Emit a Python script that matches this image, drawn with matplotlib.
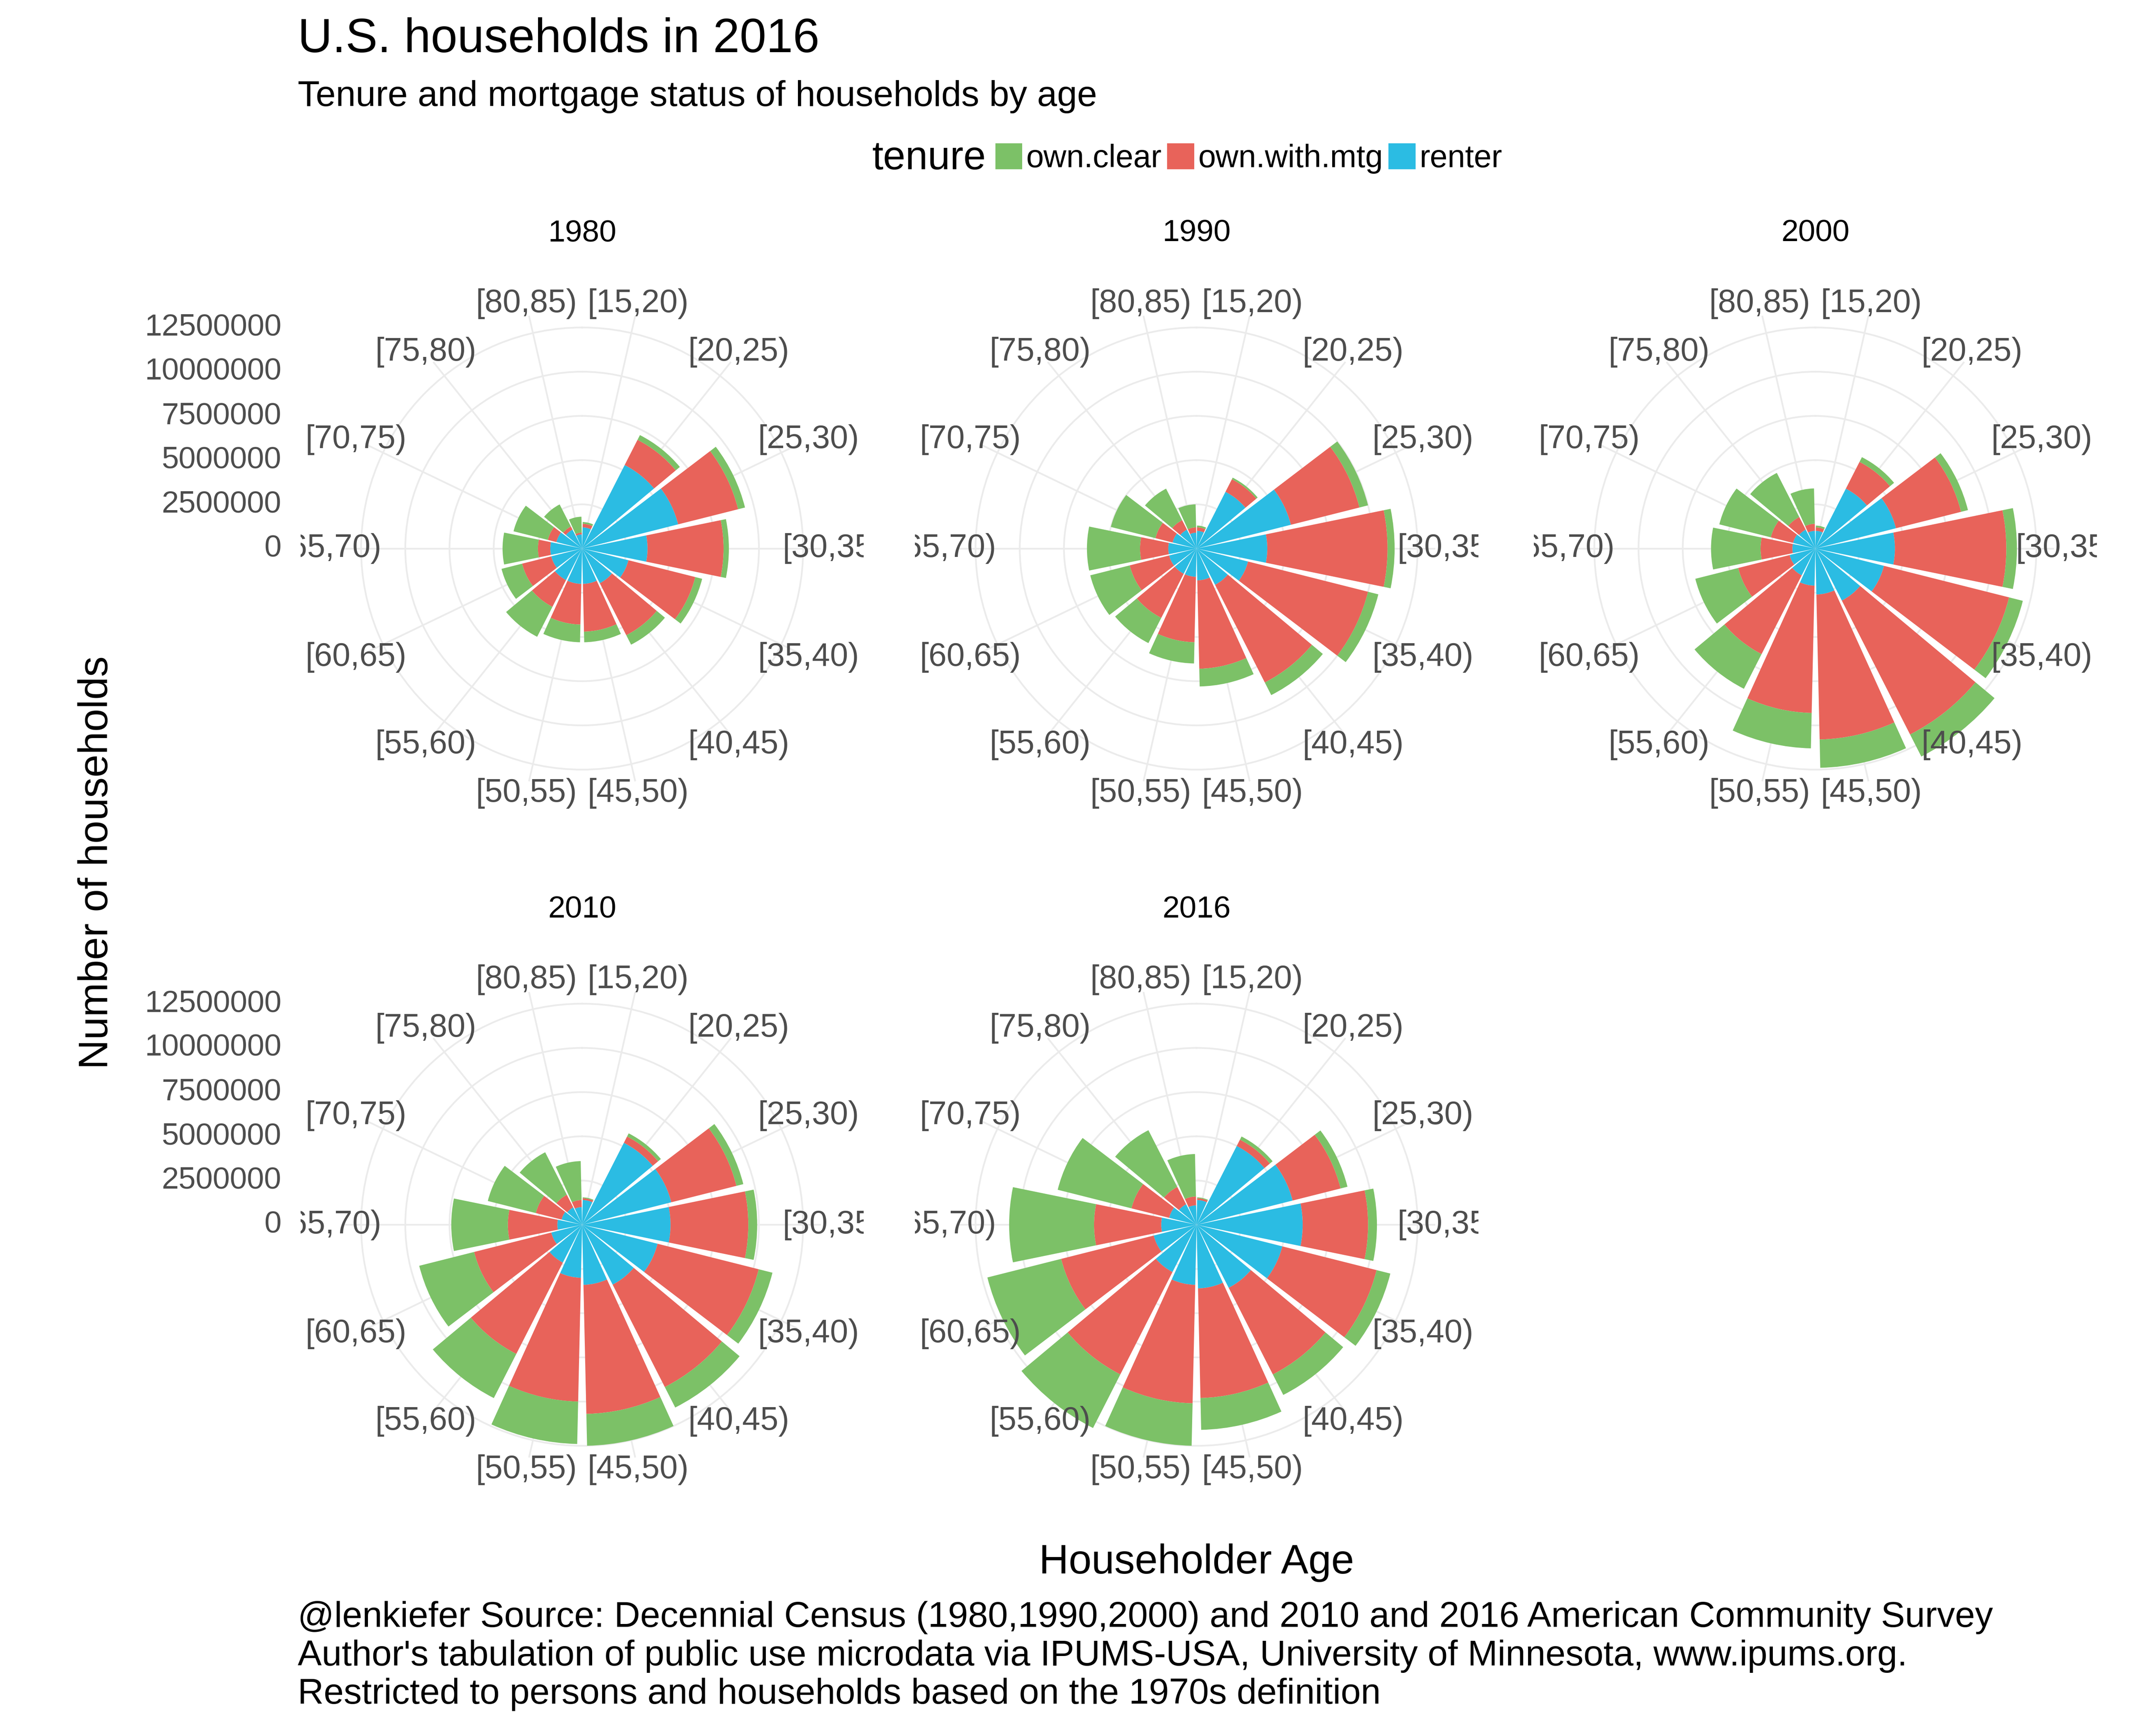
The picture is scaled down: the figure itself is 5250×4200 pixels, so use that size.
import numpy as np
import matplotlib.pyplot as plt
from matplotlib.transforms import Bbox, TransformedBbox
from matplotlib.patches import Patch

plt.rcParams['font.family'] = ['Liberation Sans', 'DejaVu Sans']

ages = ["[15,20)", "[20,25)", "[25,30)", "[30,35)", "[35,40)", "[40,45)", "[45,50)",
        "[50,55)", "[55,60)", "[60,65)", "[65,70)", "[70,75)", "[75,80)", "[80,85)"]
years = ["1980", "1990", "2000", "2010", "2016"]

# millions of households
renter = {
    "1980": [1.2, 5.3, 5.6, 3.7, 2.7, 2.2, 2.0, 2.0, 2.0, 1.8, 1.8, 1.5, 1.2, 0.8],
    "1990": [1.0, 3.6, 5.5, 4.0, 3.0, 2.3, 1.8, 1.6, 1.6, 1.6, 1.6, 1.4, 1.2, 0.9],
    "2000": [1.0, 3.8, 4.7, 4.5, 4.0, 3.3, 2.6, 2.1, 1.7, 1.5, 1.3, 1.3, 1.2, 1.0],
    "2010": [1.4, 5.2, 5.2, 5.0, 4.4, 3.8, 3.4, 3.0, 2.4, 1.8, 1.4, 1.2, 1.1, 1.0],
    "2016": [1.4, 5.0, 5.6, 6.0, 5.0, 4.0, 3.6, 3.4, 3.0, 2.5, 2.0, 1.6, 1.3, 1.1],
}
own_mtg = {
    "1980": [0.2, 1.6, 3.5, 4.3, 3.9, 3.3, 2.7, 2.3, 1.7, 1.7, 0.7, 0.5, 0.2, 0.1],
    "1990": [0.2, 0.8, 4.0, 6.8, 7.0, 6.2, 5.0, 3.7, 2.8, 2.3, 1.6, 1.0, 0.6, 0.3],
    "2000": [0.2, 1.7, 3.8, 6.3, 7.3, 8.5, 8.2, 7.2, 5.0, 3.0, 1.8, 1.3, 0.8, 0.4],
    "2010": [0.1, 0.4, 3.8, 4.4, 5.9, 6.5, 7.3, 7.0, 5.8, 4.5, 2.8, 1.5, 0.8, 0.4],
    "2016": [0.1, 0.4, 2.8, 3.7, 5.5, 5.5, 6.2, 6.7, 6.5, 5.4, 3.8, 2.2, 1.1, 0.5],
}
own_clear = {
    "1980": [0.1, 0.3, 0.4, 0.3, 0.4, 0.6, 0.6, 1.0, 1.9, 1.2, 2.0, 2.0, 1.4, 0.9],
    "1990": [0.1, 0.1, 0.5, 0.4, 0.6, 0.8, 1.0, 1.2, 1.6, 2.3, 3.0, 2.6, 2.0, 1.3],
    "2000": [0.1, 0.3, 0.4, 0.6, 0.8, 1.4, 1.6, 2.0, 2.2, 2.5, 2.8, 3.0, 2.8, 2.0],
    "2010": [0.05, 0.2, 0.4, 0.5, 0.8, 1.3, 1.8, 2.4, 2.8, 3.2, 3.2, 2.8, 2.7, 2.2],
    "2016": [0.05, 0.2, 0.4, 0.5, 0.8, 1.3, 1.8, 2.4, 3.4, 4.3, 4.8, 4.3, 3.6, 2.4],
}
r_ticks = [0, 2500000, 5000000, 7500000, 10000000, 12500000]

c_clear, c_mtg, c_rent = "#7CC167", "#E8635A", "#2BBCE3"
rmax = 13.5e6
n = len(ages)
theta = (np.arange(n) + 0.5) * 2 * np.pi / n
w = 0.9 * 2 * np.pi / n

fig = plt.figure(figsize=(17.5, 14), dpi=300)
centers = [(0.270, 0.682), (0.555, 0.682), (0.842, 0.682), (0.270, 0.290), (0.555, 0.290)]
aw, ah = 0.2232, 0.2768

for yr, (cx, cy) in zip(years, centers):
    ax = fig.add_axes([cx - aw / 2, cy - ah / 2, aw, ah], projection='polar')
    ax.set_theta_zero_location('N')
    ax.set_theta_direction(-1)
    ren = np.array(renter[yr]) * 1e6
    mtg = np.array(own_mtg[yr]) * 1e6
    clr = np.array(own_clear[yr]) * 1e6
    ax.bar(theta, ren, width=w, color=c_rent, zorder=3)
    ax.bar(theta, mtg, width=w, bottom=ren, color=c_mtg, zorder=3)
    ax.bar(theta, clr, width=w, bottom=ren + mtg, color=c_clear, zorder=3)
    ax.set_ylim(0, rmax)
    ax.set_yticks(r_ticks)
    ax.set_yticklabels([])
    ax.set_xticks(theta)
    ax.set_xticklabels([])
    ax.grid(color="#ebebeb", linewidth=1.0)
    ax.spines['polar'].set_visible(False)
    ax.tick_params(length=0)
    clip = TransformedBbox(Bbox([[-0.09, -0.15], [1.09, 1.15]]), ax.transAxes)
    for t, lab in zip(theta, ages):
        txt = ax.text(t, 14.2e6, lab, ha='center', va='center', fontsize=19,
                      color="#4d4d4d", clip_on=True)
        txt.set_clip_box(clip)
    ax.text(0.5, 1.16, yr, transform=ax.transAxes, ha='center', va='center', fontsize=18)
    if cx < 0.3:
        for rt in r_ticks:
            ax.text(-0.13, 0.5 + 0.5 * rt / rmax, str(rt), transform=ax.transAxes,
                    ha='right', va='center', fontsize=18, color="#4d4d4d")

fig.text(0.138, 0.977, "U.S. households in 2016", fontsize=28, va='center')
fig.text(0.138, 0.944, "Tenure and mortgage status of households by age", fontsize=21, va='center')
fig.text(0.4045, 0.908, "tenure", fontsize=23.5, va='center')
handles = [Patch(color=c_clear, label="own.clear"), Patch(color=c_mtg, label="own.with.mtg"),
           Patch(color=c_rent, label="renter")]
fig.legend(handles=handles, loc='center left', bbox_to_anchor=(0.462, 0.908), ncol=3,
           frameon=False, fontsize=18.5, handlelength=0.8, handleheight=0.8,
           handletextpad=0.15, columnspacing=0.2, borderaxespad=0, borderpad=0)
fig.text(0.045, 0.5, "Number of households", rotation=90, fontsize=24, va='center', ha='center')
fig.text(0.555, 0.094, "Householder Age", fontsize=24, ha='center', va='center')
fig.text(0.138, 0.008, "@lenkiefer Source: Decennial Census (1980,1990,2000) and 2010 and 2016 American Community Survey\n"
         "Author's tabulation of public use microdata via IPUMS-USA, University of Minnesota, www.ipums.org.\n"
         "Restricted to persons and households based on the 1970s definition",
         fontsize=21, va='bottom', linespacing=1.2)

fig.savefig("out.png", dpi=300, facecolor='white')
